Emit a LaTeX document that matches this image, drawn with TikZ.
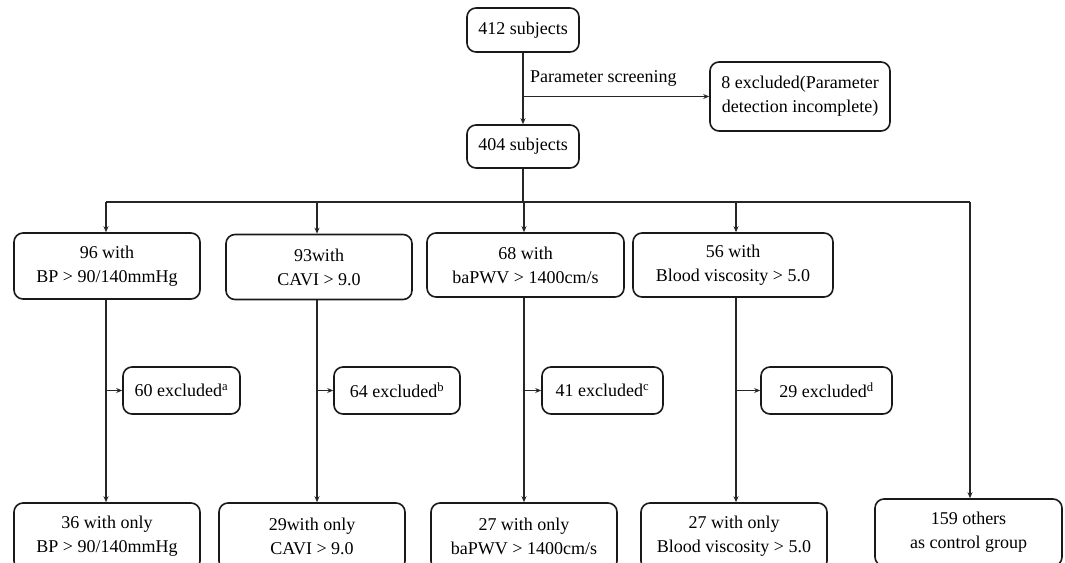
\documentclass[tikz,border=0pt]{standalone}
\usepackage{fontspec}
\setmainfont{Liberation Serif}
\usetikzlibrary{arrows.meta}
\begin{document}
\begin{tikzpicture}[x=1pt,y=-1pt,
  box/.style={draw=black!90, line width=1.6pt, rounded corners=9pt, align=center, inner sep=0pt,
    font=\fontsize{18}{24}\selectfont},
  conn/.style={draw=black!85, line width=1.3pt},
  arr/.style={conn, -{Stealth[length=6pt,width=5pt]}},
  lbl/.style={font=\fontsize{18}{24}\selectfont, inner sep=0pt}]
\useasboundingbox (0,0) rectangle (1065,562);
\clip (0,0) rectangle (1065,562);
% top part
\node[box, minimum width=112, minimum height=44] (n412) at (523,30) {412 subjects};
\node[box, minimum width=180, minimum height=69] (n8) at (800,96.5) {8 excluded(Parameter\\detection incomplete)};
\node[box, minimum width=112, minimum height=43] (n404) at (523,146.5) {404 subjects};
\node[lbl, anchor=west] (ps) at (530,78) {Parameter screening};
% row 1
\node[box, minimum width=186, minimum height=66] (bp) at (107,266) {96 with\\BP > 90/140mmHg};
\node[box, minimum width=186, minimum height=65] (cavi) at (319,267) {93with\\CAVI > 9.0};
\node[box, minimum width=197, minimum height=64] (pwv) at (525.5,265) {68 with\\baPWV > 1400cm/s};
\node[box, minimum width=200, minimum height=64] (bv) at (733,265) {56 with\\Blood viscosity > 5.0};
% excluded
\node[box, minimum width=117, minimum height=47] (e1) at (181.5,390.5) {60 excluded\textsuperscript{a}};
\node[box, minimum width=126, minimum height=47] (e2) at (397,390.5) {64 excluded\textsuperscript{b}};
\node[box, minimum width=121, minimum height=47] (e3) at (602.5,390.5) {41 excluded\textsuperscript{c}};
\node[box, minimum width=131, minimum height=47] (e4) at (826.5,390.5) {29 excluded\textsuperscript{d}};
% bottom
\node[box, minimum width=186, minimum height=67] (b1) at (107,536.5) {36 with only\\BP > 90/140mmHg};
\node[box, minimum width=186, minimum height=67] (b2) at (312,536.5) {29with only\\CAVI > 9.0};
\node[box, minimum width=186, minimum height=67] (b3) at (524,536.5) {27 with only\\baPWV > 1400cm/s};
\node[box, minimum width=186, minimum height=67] (b4) at (734,536.5) {27 with only\\Blood viscosity > 5.0};
\node[box, minimum width=187, minimum height=67] (b5) at (968.5,532.5) {159 others\\as control group};
% connectors
\draw[arr] (n412.south) -- (n404.north);
\draw[arr] (n412.south |- n8.west) -- (n8.west);
\coordinate (k1) at (106,202);
\coordinate (k2) at (317,202);
\coordinate (k3) at (524,202);
\coordinate (k4) at (736,202);
\coordinate (k5) at (970,202);
\draw[conn] (n404.south) -- (n404.south |- k3);
\draw[conn] (k1) -- (k5);
\draw[arr] (k1) -- (k1 |- bp.north);
\draw[arr] (k2) -- (k2 |- cavi.north);
\draw[arr] (k3) -- (k3 |- pwv.north);
\draw[arr] (k4) -- (k4 |- bv.north);
\draw[arr] (k5) -- (k5 |- b5.north);
\draw[arr] (k1 |- bp.south) -- (k1 |- b1.north);
\draw[arr] (k2 |- cavi.south) -- (k2 |- b2.north);
\draw[arr] (k3 |- pwv.south) -- (k3 |- b3.north);
\draw[arr] (k4 |- bv.south) -- (k4 |- b4.north);
\draw[arr] (k1 |- e1.west) -- (e1.west);
\draw[arr] (k2 |- e2.west) -- (e2.west);
\draw[arr] (k3 |- e3.west) -- (e3.west);
\draw[arr] (k4 |- e4.west) -- (e4.west);
\end{tikzpicture}
\end{document}
